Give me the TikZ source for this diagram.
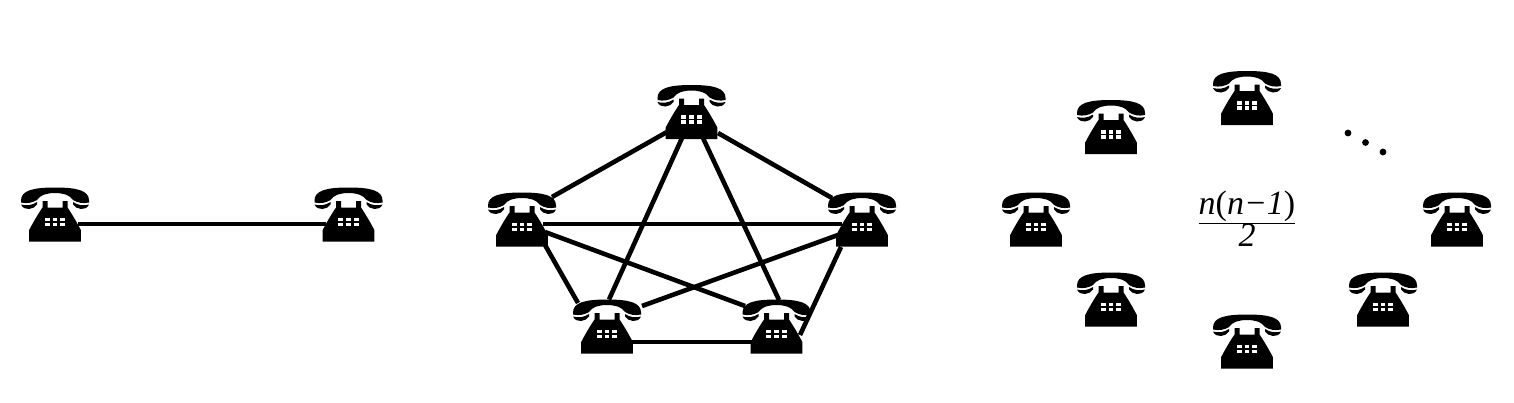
\documentclass[tikz,border=0pt]{standalone}
\usepackage{fontspec}
\setmainfont{Liberation Serif}

\newcommand{\phoneshape}{
    %handset
    \fill (-34,-14) .. controls (-34,-24) and (-22,-27) .. (0,-27) .. controls (22,-27) and (34,-24) .. (34,-14)
        -- (34,-12) .. controls (28,-10.5) and (22,-12) .. (18,-14.5) .. controls (15,-19.5) and (8,-21.5) .. (0,-21.5)
        .. controls (-8,-21.5) and (-15,-19.5) .. (-18,-14.5) .. controls (-22,-12) and (-28,-10.5) .. (-34,-12) -- cycle;
    \fill (-34,-10) .. controls (-29,-8.5) and (-23,-9) .. (-18,-12.5) -- (-18,-10) .. controls (-21,-5) and (-31,-3) .. (-34,-10) -- cycle;
    \fill (34,-10) .. controls (29,-8.5) and (23,-9) .. (18,-12.5) -- (18,-10) .. controls (21,-5) and (31,-3) .. (34,-10) -- cycle;
    %body
    \fill (-12.5,-13.5) -- (-7.5,-13.5) -- (-7.5,-7) -- (7.5,-7) -- (7.5,-13.5) -- (12.5,-13.5) -- (12.5,-7)
        .. controls (16,-2) and (22,8) .. (25.8,15.5) -- (25.8,27) -- (-25.8,27) -- (-25.8,15.5) .. controls (-22,8) and (-16,-2) .. (-12.5,-7) -- cycle;
    %keys
    \foreach \kx in {-7.7,0,7.7}
        \foreach \ky in {4.8,10}
            \fill[white] (\kx-2.4,\ky-1.8) rectangle (\kx+2.4,\ky+1.8);
}

\begin{document}
\begin{tikzpicture}[x=0.5pt,y=-0.5pt,
    phone/.style={minimum width=34pt,minimum height=27pt,inner sep=0pt,
        path picture={\begin{scope}[shift={(path picture bounding box.center)}]\phoneshape\end{scope}}},
    wire/.style={line width=2.3pt},
    dot/.style={circle,fill=black,inner sep=0pt,minimum size=3.4pt}]
    \useasboundingbox (0,0) rectangle (1514,402);

    %two phones
    \node at (55,214.5) [phone] (a) {};
    \node at (348.5,214.5) [phone] (b) {};

    %five phones
    \node at (691.5,112) [phone] (top) {};
    \node at (522,219.5) [phone] (left) {};
    \node at (862,219.5) [phone] (right) {};
    \node at (607,326.5) [phone] (bl) {};
    \node at (776.5,326.5) [phone] (br) {};

    %n phones
    \node at (1036,219.5) [phone] (n1) {};
    \node at (1111,127) [phone] (n2) {};
    \node at (1247,98) [phone] (n3) {};
    \node at (1457,219.5) [phone] (n4) {};
    \node at (1383,299.5) [phone] (n5) {};
    \node at (1247,341.5) [phone] (n6) {};
    \node at (1111,299.5) [phone] (n7) {};

    \node at (1348,133) [dot] (d1) {};
    \node at (1365.5,142.5) [dot] (d2) {};
    \node at (1383,152) [dot] (d3) {};

    \node at (1247,219) (count) {\fontsize{17}{20}\selectfont
        $\frac{\hbox{\fontsize{17}{20}\selectfont\textit{n}(\textit{n}\textit{−}\textit{1})}}{\hbox{\fontsize{17}{20}\selectfont\textit{2}}}$};

    %connectors
    \draw[wire] ([shift={(23,9.5)}]a.center) -- ([shift={(-23,9.5)}]b.center);

    \draw[wire] ([shift={(-24.5,20)}]top.center) -- ([shift={(30,-22.5)}]left.center);
    \draw[wire] ([shift={(-9.5,26)}]top.center) -- ([shift={(2,-27)}]bl.center);
    \draw[wire] ([shift={(11.5,26)}]top.center) -- ([shift={(2.5,-26.5)}]br.center);
    \draw[wire] ([shift={(26.5,21)}]top.center) -- ([shift={(-30,-21.5)}]right.center);
    \draw[wire] ([shift={(21,4.5)}]left.center) -- ([shift={(-20,4.5)}]right.center);
    \draw[wire] ([shift={(23,12.5)}]left.center) -- ([shift={(-31.5,-20.5)}]br.center);
    \draw[wire] ([shift={(-24,15.5)}]right.center) -- ([shift={(35,-20.5)}]bl.center);
    \draw[wire] ([shift={(23,25.5)}]left.center) -- ([shift={(-29,-23.5)}]bl.center);
    \draw[wire] ([shift={(-21,27.5)}]right.center) -- ([shift={(23.5,8.5)}]br.center);
    \draw[wire] ([shift={(25,15.5)}]bl.center) -- ([shift={(-24.5,15.5)}]br.center);

\end{tikzpicture}
\end{document}
